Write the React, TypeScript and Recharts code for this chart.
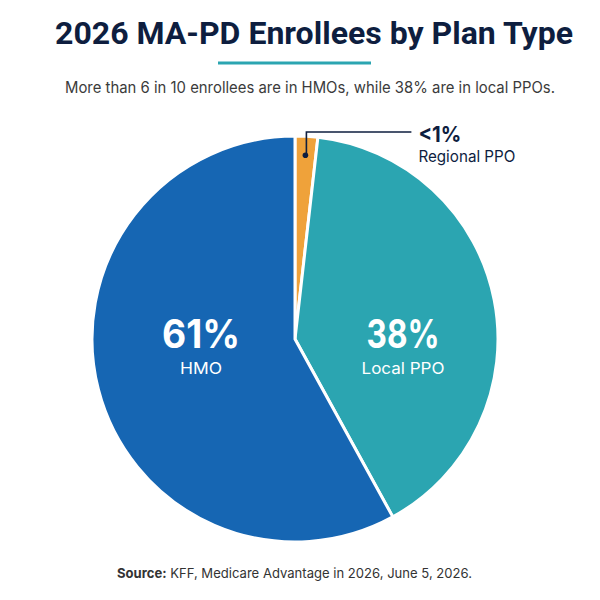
import React from 'react';
import { PieChart, Pie, Cell } from 'recharts';

// shares as drawn in the picture (clockwise from 12 o'clock)
const planTypes = ['Regional PPO', 'Local PPO', 'HMO'];
const shares = [1.8, 40.2, 58];
const shareLabels = ['<1%', '38%', '61%'];
const sliceColors = ['#EFA23A', '#2BA5B1', '#1666B3'];

const data = planTypes.map((name, i) => ({ name, value: shares[i], label: shareLabels[i] }));

const NAVY = '#0E1E3F';
const RAD = Math.PI / 180;
const FONT = 'Inter, Roboto, "DejaVu Sans", sans-serif';
const TITLE_FONT = 'Roboto, Inter, "DejaVu Sans", sans-serif';

const renderLabel = (props: any) => {
    const { cx, cy, outerRadius, midAngle, index } = props;
    const item = data[index];
    if (index === 0) {
        const r = outerRadius - 19;
        const dx = cx + r * Math.cos(-midAngle * RAD);
        const dy = cy + r * Math.sin(-midAngle * RAD);
        const topY = cy - outerRadius - 4;
        return (
            <g>
                <circle cx={dx} cy={dy} r={2.8} fill={NAVY} />
                <polyline points={`${dx + 1},${dy} ${dx + 1},${topY} ${dx + 106},${topY}`} fill="none" stroke={NAVY} strokeWidth={1.6} />
                <text x={dx + 113} y={cy - 197} fontFamily={FONT} fontWeight={700} fontSize={22} fill={NAVY} textLength={43} lengthAdjust="spacingAndGlyphs">{item.label}</text>
                <text x={dx + 113} y={cy - 177} fontFamily={FONT} fontSize={16} fill={NAVY} textLength={97} lengthAdjust="spacingAndGlyphs">{item.name}</text>
            </g>
        );
    }
    const lx = index === 2 ? cx - 94 : cx + 108;
    const bigW = index === 2 ? 78 : 73;
    const smallW = index === 2 ? 42 : 83;
    return (
        <g>
            <text x={lx} y={cy + 9} textAnchor="middle" fontFamily={FONT} fontWeight={700} fontSize={39} fill="#fff" textLength={bigW} lengthAdjust="spacingAndGlyphs">{item.label}</text>
            <text x={lx} y={cy + 35} textAnchor="middle" fontFamily={FONT} fontSize={16} fill="#fff" textLength={smallW} lengthAdjust="spacingAndGlyphs">{item.name}</text>
        </g>
    );
};

const App: React.FC = () => {
    return (
        <div style={{ position: 'absolute', left: 0, top: 0, width: 600, height: 600, background: '#fff' }}>
            <div style={{ position: 'absolute', left: 0, top: 0 }}>
                <PieChart width={600} height={600} margin={{ top: 0, right: 0, bottom: 0, left: 0 }}>
                    <Pie
                        data={data}
                        dataKey="value"
                        nameKey="name"
                        cx={295}
                        cy={339}
                        outerRadius={203}
                        startAngle={90}
                        endAngle={-270}
                        stroke="#fff"
                        strokeWidth={3}
                        label={renderLabel}
                        labelLine={false}
                        isAnimationActive={false}
                    >
                        {data.map((entry, index) => (
                            <Cell key={`cell-${index}`} fill={sliceColors[index]} />
                        ))}
                    </Pie>
                </PieChart>
            </div>
            <svg width={600} height={600} style={{ position: 'absolute', left: 0, top: 0, pointerEvents: 'none' }}>
                <text x={314} y={44} textAnchor="middle" fontFamily={TITLE_FONT} fontWeight={700} fontSize={31} fill={NAVY} textLength={518} lengthAdjust="spacingAndGlyphs">2026 MA-PD Enrollees by Plan Type</text>
                <rect x={218} y={61.5} width={153} height={3} fill="#2BA5B1" />
                <text x={310} y={93} textAnchor="middle" fontFamily={FONT} fontSize={15.5} fill="#3B3B3B" textLength={490} lengthAdjust="spacingAndGlyphs">More than 6 in 10 enrollees are in HMOs, while 38% are in local PPOs.</text>
                <text x={117} y={578} fontFamily={FONT} fontSize={13.5} fill="#333" textLength={355} lengthAdjust="spacingAndGlyphs">
                    <tspan fontWeight={700}>Source:</tspan> KFF, Medicare Advantage in 2026, June 5, 2026.
                </text>
            </svg>
        </div>
    );
};

export default App;
